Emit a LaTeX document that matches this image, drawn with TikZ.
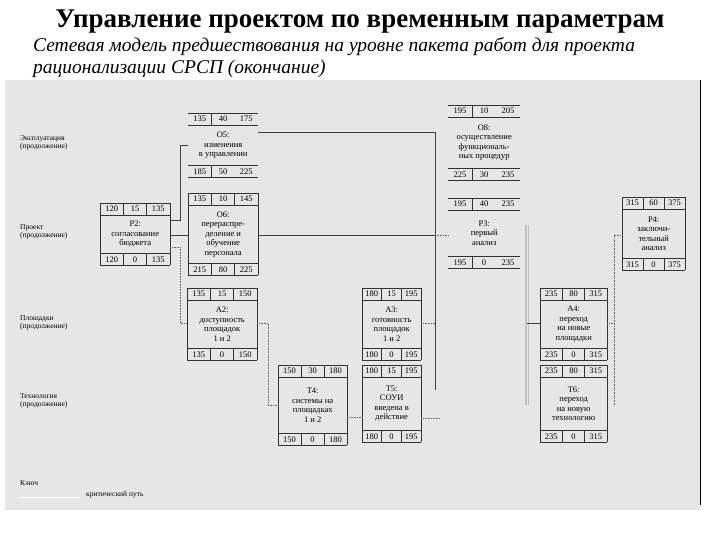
\documentclass[tikz,border=0pt]{standalone}
\usepackage{fontspec}
\setmainfont{Liberation Serif}
\usetikzlibrary{calc}
\definecolor{panel}{RGB}{230,230,230}
\tikzset{x=1pt,y=-1pt,
  num/.style={font=\fontsize{8.5}{9}\selectfont,inner sep=0},
  lab/.style={font=\fontsize{8.5}{9.5}\selectfont,align=center,inner sep=0},
  side/.style={font=\fontsize{7.5}{8.5}\selectfont,align=left,anchor=north west,inner sep=0},
  crit/.style={draw=black!75,line width=0.6pt},
  dotl/.style={draw=black!60,densely dotted,line width=0.6pt},
  frame/.style={draw=black!80,line width=0.8pt}}
\newcommand\actbox[9]{%
 \node[minimum width=#4pt,minimum height=#5pt,anchor=north west,inner sep=0] (#1) at (#2,#3) {};
 \draw[frame] (#1.north west) -- (#1.north east);
 \draw[frame] ($(#1.north west)+(0,12)$) -- ($(#1.north east)+(0,12)$);
 \draw[frame] ($(#1.south west)+(0,-12)$) -- ($(#1.south east)+(0,-12)$);
 \draw[frame] (#1.south west) -- (#1.south east);
 \draw[frame] ($(#1.north west)+(#4/3,0)$) -- ++(0,12);
 \draw[frame] ($(#1.south west)+(#4/3,0)$) -- ++(0,-12);
 \ifnum#9=1
 \draw[frame] (#1.north west) -- (#1.south west);
 \draw[frame] (#1.north east) -- (#1.south east);
 \draw[frame] ($(#1.north west)+(2*#4/3,0)$) -- ++(0,12);
 \draw[frame] ($(#1.south west)+(2*#4/3,0)$) -- ++(0,-12);
 \fi
 \foreach \v [count=\i] in {#6} \node[num] at ($(#1.north west)+({(\i-0.5)*#4/3},6)$) {\v};
 \foreach \v [count=\i] in {#8} \node[num] at ($(#1.south west)+({(\i-0.5)*#4/3},-6)$) {\v};
 \node[lab] at (#1.center) {#7};
}
\begin{document}
\begin{tikzpicture}
\useasboundingbox (0,0) rectangle (720,540);
\fill[white] (0,0) rectangle (720,540);
\node[font=\bfseries\fontsize{27}{29}\selectfont] (title) at (360,22) {Управление проектом по временным параметрам};
\node[font=\itshape\fontsize{19.5}{22}\selectfont,align=left,anchor=north west,inner sep=0] (sub) at (33,37) {Сетевая модель предшествования на уровне пакета работ для проекта\\рационализации СРСП (окончание)};
\fill[panel] (5,80) rectangle (700,510);
\draw[black,line width=1pt] (700,80) -- (700,505);
% side labels
\node[side] (l1) at (20,135) {Эксплуатация\\(продолжение)};
\node[side] (l2) at (20,224) {Проект\\(продолжение)};
\node[side] (l3) at (20,315) {Площадки\\(продолжение)};
\node[side] (l4) at (20,393) {Технология\\(продолжение)};
\node[side] (l5) at (20,480) {Ключ};
\node[side] (l6) at (86,491) {критический путь};
\coordinate (k1) at (20,497); \coordinate (k2) at (80,497);
\draw[draw=white,line width=0.6pt] (k1) -- (k2);
% boxes
\actbox{O5}{188}{113}{70}{64}{135,40,175}{O5:\\изменения\\в управлении}{185,50,225}{0}
\actbox{O6}{188}{193}{70}{82}{135,10,145}{O6:\\перераспре-\\деление и\\обучение\\персонала}{215,80,225}{1}
\actbox{P2}{100}{203}{70}{62}{120,15,135}{P2:\\согласование\\бюджета}{120,0,135}{1}
\actbox{A2}{187}{288}{70}{72}{135,15,150}{A2:\\доступность\\площадок\\1 и 2}{135,0,150}{1}
\actbox{O8}{448}{105}{72}{75}{195,10,205}{O8:\\осуществление\\функциональ-\\ных процедур}{225,30,235}{0}
\actbox{P3}{448}{198}{72}{70}{195,40,235}{P3:\\первый\\анализ}{195,0,235}{0}
\actbox{P4}{622}{197}{63}{73}{315,60,375}{P4:\\заключи-\\тельный\\анализ}{315,0,375}{1}
\actbox{A3}{362}{288}{59}{72}{180,15,195}{A3:\\готовность\\площадок\\1 и 2}{180,0,195}{1}
\actbox{T5}{362}{365}{59}{77}{180,15,195}{T5:\\СОУИ\\введена в\\действие}{180,0,195}{1}
\actbox{T4}{278}{365}{69}{80}{150,30,180}{T4:\\системы на\\площадках\\1 и 2}{150,0,180}{1}
\actbox{A4}{540}{288}{67}{72}{235,80,315}{A4:\\переход\\на новые\\площадки}{235,0,315}{1}
\actbox{T6}{540}{365}{67}{77}{235,80,315}{T6:\\переход\\на новую\\технологию}{235,0,315}{1}
% connectors
\coordinate (v1) at (435,132); \coordinate (v2) at (435,390);
\draw[crit] (v1) -- (v2);
\draw[crit] (O5.east |- 0,132) -- (v1);
\draw[crit] (O6.east |- 0,235) -- (435,235);
\draw[dotl] (435,235) -- (P3.west |- 0,235);
\draw[crit] (P2.east |- 0,220) -- (180,220) -- (180,145) -- (O5.west |- 0,145);
\draw[crit] (P2.east |- 0,235) -- (O6.west |- 0,235);
\draw[dotl] (P2.east |- 0,247) -- (180,247) -- (180,323) -- (A2.west |- 0,323);
\draw[dotl] (A2.east |- 0,323) -- (268,323) -- (268,405) -- (T4.west |- 0,405);
\draw[dotl] (T4.east |- 0,417) -- (T5.west |- 0,417);
\draw[dotl] (A3.east |- 0,323) -- (435,323);
\draw[dotl] (T5.east |- 0,418) -- (440,418);
\draw[black!25,double=panel,line width=2pt] (527,225) -- (527,405);
\draw[crit] (527,323) -- (A4.west |- 0,323);
\draw[dotl] (A4.east |- 0,323) -- (614,323);
\draw[dotl] (614,405) -- (614,235) -- (P4.west |- 0,235);
\end{tikzpicture}
\end{document}
